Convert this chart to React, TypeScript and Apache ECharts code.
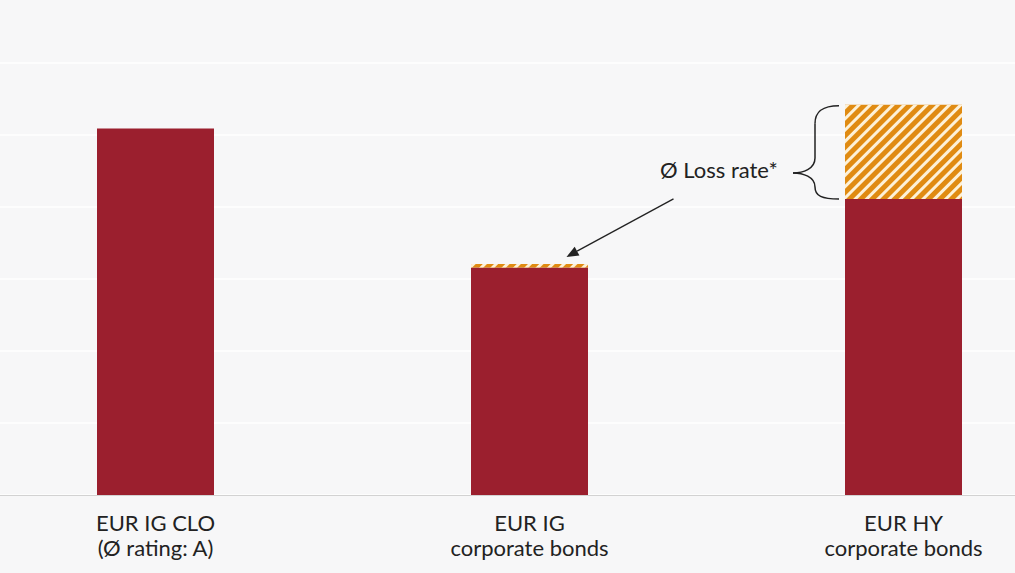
import React, { useEffect, useRef } from 'react';
import * as echarts from 'echarts';

const categories = ['EUR IG CLO\n(Ø rating: A)', 'EUR IG\ncorporate bonds', 'EUR HY\ncorporate bonds'];
const baseValues = [5.09, 3.16, 4.11];
const lossValues = [0, 0.05, 1.31];
const yTicks = [0, 1, 2, 3, 4, 5, 6];

const RED = '#9b1f2e';
const ORANGE = '#e08b12';
const CREAM = '#fdf1d8';
const INK = '#222222';
const FONT = 'Lato, "Open Sans", sans-serif';

const App: React.FC = () => {
  const chartRef = useRef<HTMLDivElement>(null);

  useEffect(() => {
    if (!chartRef.current) return;
    const chart = echarts.init(chartRef.current, undefined, { renderer: 'svg' });

    const yBase = {
      type: 'value',
      min: yTicks[0],
      max: yTicks[yTicks.length - 1],
      interval: 1,
      axisLabel: { show: false },
      axisLine: { show: false },
      axisTick: { show: false }
    };

    const option = {
      animation: false,
      backgroundColor: '#f7f7f8',
      grid: [
        // full-width background grid: gridlines + baseline
        { left: 0, right: 0, top: 63, bottom: 78 },
        // bars
        { left: 155.5, right: 111.5, top: 63, bottom: 78 }
      ],
      xAxis: [
        {
          gridIndex: 0,
          type: 'value',
          min: 0,
          max: 1,
          axisLine: { show: true, onZero: false, lineStyle: { color: '#d2d2d2', width: 1 } },
          axisTick: { show: false },
          axisLabel: { show: false },
          splitLine: { show: false }
        },
        {
          gridIndex: 1,
          type: 'category',
          boundaryGap: false,
          data: categories,
          axisLine: { show: false },
          axisTick: { show: false },
          axisLabel: {
            color: INK,
            fontFamily: FONT,
            fontSize: 22,
            lineHeight: 25,
            margin: 15,
            interval: 0
          }
        }
      ],
      yAxis: [
        { ...yBase, gridIndex: 0, splitLine: { lineStyle: { color: '#ffffff', width: 1.5 } } },
        { ...yBase, gridIndex: 1, splitLine: { show: false } }
      ],
      series: [
        {
          type: 'bar',
          xAxisIndex: 1,
          yAxisIndex: 1,
          stack: 'total',
          barWidth: 117,
          itemStyle: { color: RED },
          data: baseValues
        },
        {
          type: 'bar',
          xAxisIndex: 1,
          yAxisIndex: 1,
          stack: 'total',
          barWidth: 117,
          itemStyle: {
            color: ORANGE,
            decal: {
              symbol: 'rect',
              color: CREAM,
              dashArrayX: [1, 0],
              dashArrayY: [2.6, 4.6],
              rotation: -Math.PI / 4
            }
          },
          data: lossValues
        }
      ]
    };

    chart.setOption(option);

    // annotation positions derived from the bars
    const px = (i: number, v: number) =>
      chart.convertToPixel({ xAxisIndex: 1, yAxisIndex: 1 }, [i, v]) as number[];
    const igTop = px(1, baseValues[1] + lossValues[1]);
    const hyTop = px(2, baseValues[2] + lossValues[2]);
    const hyMid = px(2, baseValues[2]);

    const tip = [igTop[0] + 37, igTop[1] - 7];
    const tail = [tip[0] + 107, tip[1] - 58];
    const dx = tip[0] - tail[0];
    const dy = tip[1] - tail[1];
    const len = Math.sqrt(dx * dx + dy * dy);
    const ux = dx / len;
    const uy = dy / len;
    const bx = tip[0] - ux * 12;
    const by = tip[1] - uy * 12;
    const head = [
      [tip[0], tip[1]],
      [bx + uy * 5, by - ux * 5],
      [bx - uy * 5, by + ux * 5]
    ];

    const r = hyTop[0] - 58.5 - 6; // brace right end
    const t = hyTop[1] + 1;
    const b = hyMid[1];
    const v = r - 24; // vertical stem
    const tx = r - 46; // brace tip
    const ty = t + (b - t) * 0.72;
    const braceStyle = { stroke: INK, lineWidth: 1.5, fill: 'none' };

    chart.setOption({
      graphic: [
        {
          type: 'line',
          shape: { x1: tail[0], y1: tail[1], x2: bx, y2: by },
          style: { stroke: INK, lineWidth: 1.3 }
        },
        {
          type: 'polygon',
          shape: { points: head },
          style: { fill: INK }
        },
        {
          type: 'text',
          left: 660,
          top: ty - 14,
          style: { text: 'Ø Loss rate*', fill: INK, font: '22px ' + FONT }
        },
        {
          type: 'bezierCurve',
          shape: { x1: r, y1: t, cpx1: r - 17, cpy1: t, cpx2: v, cpy2: t + 6, x2: v, y2: t + 18 },
          style: braceStyle
        },
        {
          type: 'line',
          shape: { x1: v, y1: t + 18, x2: v, y2: ty - 15 },
          style: braceStyle
        },
        {
          type: 'bezierCurve',
          shape: { x1: v, y1: ty - 15, cpx1: v, cpy1: ty - 4, cpx2: tx + 10, cpy2: ty, x2: tx, y2: ty },
          style: braceStyle
        },
        {
          type: 'bezierCurve',
          shape: { x1: tx, y1: ty, cpx1: tx + 10, cpy1: ty, cpx2: v, cpy2: ty + 4, x2: v, y2: ty + 14 },
          style: braceStyle
        },
        {
          type: 'bezierCurve',
          shape: { x1: v, y1: ty + 14, cpx1: v, cpy1: b - 3, cpx2: r - 17, cpy2: b, x2: r, y2: b },
          style: braceStyle
        }
      ]
    });

    return () => {
      chart.dispose();
    };
  }, []);

  return (
    <div
      ref={chartRef}
      style={{ position: 'fixed', left: 0, top: 0, width: '1015px', height: '573px' }}
    ></div>
  );
};

export default App;
